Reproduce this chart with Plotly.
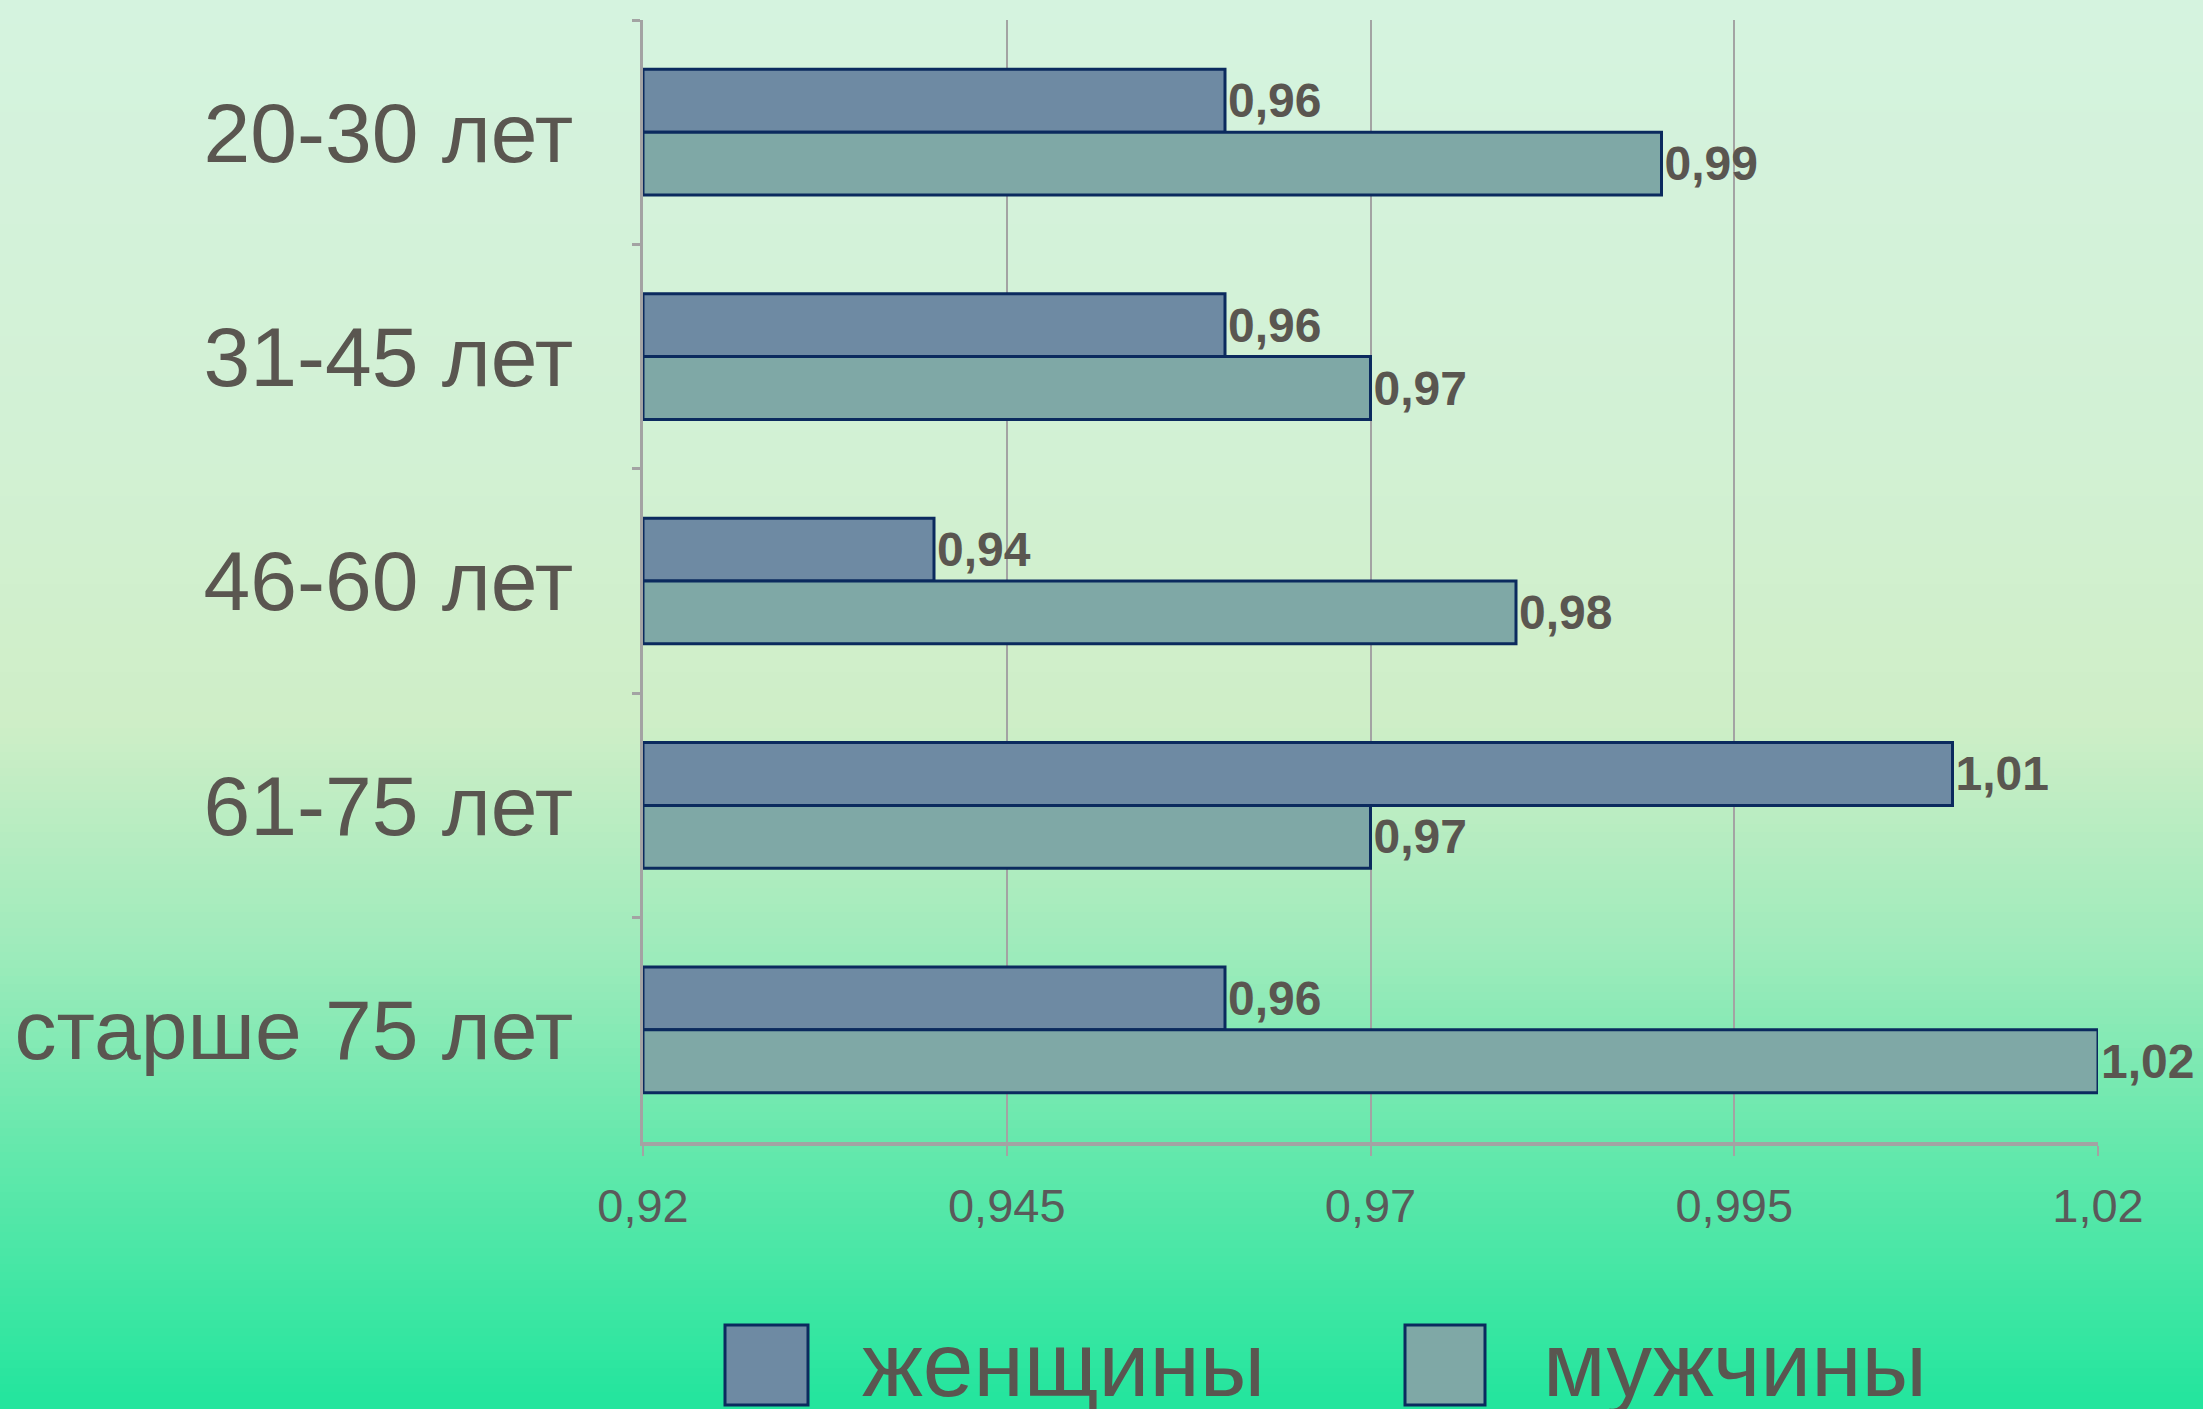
import plotly.graph_objects as go

# ---- data ----
categories = ["20-30 лет", "31-45 лет", "46-60 лет", "61-75 лет", "старше 75 лет"]
women = [0.96, 0.96, 0.94, 1.01, 0.96]
men = [0.99, 0.97, 0.98, 0.97, 1.02]
series_names = ["женщины", "мужчины"]
x_tickvals = [0.92, 0.945, 0.97, 0.995, 1.02]
x_ticktext = ["0,92", "0,945", "0,97", "0,995", "1,02"]
axis_base = 0.92

# ---- style ----
W, H = 2203, 1409
ML, MR, MT, MB = 643, 105, 20, 267
women_color = "#6e8aa3"
men_color = "#7fa8a6"
edge_color = "#0b2a5e"
text_color = "#5a5650"
grid_color = "#a3a3a3"
font_family = "Liberation Sans, Arial, Helvetica, sans-serif"

def fmt(v):
    return f"{v:.2f}".replace(".", ",")

fig = go.Figure()
for name, vals, col in [(series_names[0], women, women_color), (series_names[1], men, men_color)]:
    fig.add_trace(go.Bar(
        y=categories,
        x=[v - axis_base for v in vals],
        base=axis_base,
        orientation="h",
        name=name,
        marker=dict(color=col, line=dict(color=edge_color, width=3)),
        text=[fmt(v) for v in vals],
        textposition="outside",
        textfont=dict(family=font_family, size=48, color=text_color, weight="bold"),
        cliponaxis=False,
        constraintext="none",
        showlegend=False,
    ))

# ---- background gradient (layout decoration) ----
stops = [(0, (213, 243, 223)), (450, (210, 241, 212)), (720, (207, 238, 199)),
         (950, (158, 235, 187)), (1150, (100, 232, 172)), (1409, (34, 229, 157))]

def col_at(py):
    for (y0, c0), (y1, c1) in zip(stops[:-1], stops[1:]):
        if y0 <= py <= y1:
            t = (py - y0) / (y1 - y0)
            return tuple(round(a + (b - a) * t) for a, b in zip(c0, c1))
    return stops[-1][1]

plot_h = H - MT - MB
plot_w = W - ML - MR

def py2paper(py):
    return (H - MB - py) / plot_h

def px2paper(px):
    return (px - ML) / plot_w

shapes = []
step = 8
for py in range(0, H, step):
    c = col_at(py + step / 2)
    shapes.append(dict(type="rect", xref="paper", yref="paper",
                       x0=px2paper(-2), x1=px2paper(W + 2),
                       y0=py2paper(py + step + 1), y1=py2paper(py),
                       fillcolor=f"rgb{c}", line=dict(width=0), layer="below"))

# ---- custom legend ----
legend_items = [(series_names[0], women_color, 725, 808, 860),
                (series_names[1], men_color, 1405, 1485, 1541)]
annotations = []
for name, col, sx0, sx1, tx in legend_items:
    shapes.append(dict(type="rect", xref="paper", yref="paper",
                       x0=px2paper(sx0), x1=px2paper(sx1),
                       y0=py2paper(1405), y1=py2paper(1325),
                       fillcolor=col, line=dict(color=edge_color, width=3), layer="above"))
    annotations.append(dict(xref="paper", yref="paper", x=px2paper(tx), y=py2paper(1364),
                            xanchor="left", yanchor="middle", text=name, showarrow=False,
                            font=dict(family=font_family, size=91, color=text_color)))

fig.update_layout(
    width=W, height=H,
    margin=dict(l=ML, r=MR, t=MT, b=MB, pad=0),
    paper_bgcolor="rgb(213,243,223)",
    plot_bgcolor="rgba(0,0,0,0)",
    barmode="group",
    bargap=0.44,
    bargroupgap=0,
    shapes=shapes,
    annotations=annotations,
    font=dict(family=font_family, color=text_color),
    xaxis=dict(
        range=[0.92, 1.02],
        tickvals=x_tickvals, ticktext=x_ticktext,
        showgrid=True, gridcolor=grid_color, gridwidth=2,
        showline=True, linecolor=grid_color, linewidth=4,
        ticks="outside", ticklen=10, tickcolor=grid_color, tickwidth=2,
        tickfont=dict(size=47, color="#5a5a5a", family=font_family),
        ticklabelstandoff=10,
        zeroline=False,
    ),
    yaxis=dict(
        autorange="reversed",
        showline=True, linecolor=grid_color, linewidth=3,
        ticks="outside", tickson="boundaries", ticklen=8, tickcolor=grid_color, tickwidth=3,
        tickfont=dict(size=84, color=text_color, family=font_family),
        ticklabelstandoff=50,
        showgrid=False,
    ),
)

fig.write_html(
    "out.html",
    config={"displayModeBar": False},
    post_script="document.body.style.margin='0';document.body.style.overflow='hidden';",
)
